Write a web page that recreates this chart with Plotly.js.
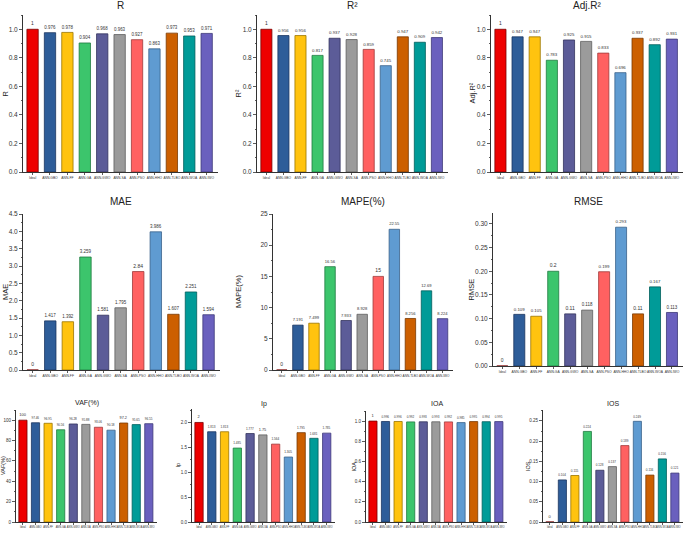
<!DOCTYPE html>
<html><head><meta charset="utf-8">
<script src="https://cdn.plot.ly/plotly-3.0.1.min.js"></script>
<style>body{margin:0;padding:0;background:#fff}#chart{width:685px;height:533px}</style>
</head><body><div id="chart"></div>
<script>
const categories = ["Ideal","ANN-GBO","ANN-FF","ANN-GA","ANN-GWO","ANN-SA","ANN-PSO","ANN-HHO","ANN-TLBO","ANN-WOA","ANN-IWO"];
const colors = ["#ee0000","#2e5d99","#ffc30f","#3cc56c","#5c5c98","#9b9b9b","#ff6161","#5f9bd1","#cc5f00","#009b98","#6a60be"];
const lineColors = ["#7a0000","#1a3560","#9a7500","#1f7a40","#33335e","#5e5e5e","#a03a3a","#3a628a","#7a3900","#005e5c","#3e3878"];

const R_vals    = [1,0.976,0.978,0.904,0.968,0.963,0.927,0.863,0.973,0.953,0.971];
const R2_vals   = [1,0.956,0.956,0.817,0.937,0.928,0.859,0.745,0.947,0.909,0.942];
const AdjR2_vals= [1,0.947,0.947,0.783,0.925,0.915,0.833,0.696,0.937,0.892,0.931];
const MAE_vals  = [0,1.417,1.392,3.259,1.581,1.795,2.84,3.986,1.607,2.251,1.594];
const MAPE_vals = [0,7.191,7.499,16.56,7.933,8.928,15,22.55,8.256,12.69,8.224];
const RMSE_vals = [0,0.109,0.105,0.2,0.11,0.118,0.199,0.293,0.11,0.167,0.113];
const VAF_vals  = [100,97.46,96.95,90.56,96.28,95.88,93.06,90.18,97.2,95.65,96.55];
const Ip_vals   = [2,1.813,1.813,1.485,1.777,1.750,1.564,1.305,1.795,1.681,1.785];
const IOA_vals  = [1,0.996,0.996,0.992,0.993,0.993,0.992,0.985,0.995,0.994,0.995];
const IOS_vals  = [0,0.104,0.115,0.224,0.128,0.137,0.189,0.249,0.116,0.156,0.121];

const W = 685, H = 533;
// [title, yTitle, values, xpx0, xpx1, ypxTop, ypxBot, ymax, dtick, minorDtick, tickFont, yTitleX, titleY, labelFont, catFont]
const panels = [
  ["R","R",R_vals,23,218,15,172,1.1,0.2,0.1,6.5,5,5,5,3.3],
  ["R²","R²",R2_vals,257,448,15,172,1.1,0.2,0.1,6.5,238,5,5,3.3],
  ["Adj.R²","Adj.R²",AdjR2_vals,491,683,15,172,1.1,0.2,0.1,6.5,472,5,5,3.3],
  ["MAE","MAE",MAE_vals,23,220,214,370,4.5,0.5,0.25,6.5,5,201,5,3.3],
  ["MAPE(%)","MAPE(%)",MAPE_vals,273,453,214,370,25,5,2.5,6.5,238,201,5,3.1],
  ["RMSE","RMSE",RMSE_vals,493,683,213,366,0.323,0.05,0.025,6.5,471,201,5,3.3],
  ["VAF(%)","VAF(%)",VAF_vals,16,157,410,522,110,20,10,4.5,3,403,4,2.6],
  ["Ip","Ip",Ip_vals,192,335,409,522,2.27,0.5,0.25,4.5,177,404,4,2.6],
  ["IOA","IOA",IOA_vals,366,507,411,522,1.1,0.2,0.1,4.5,353,403,4,2.6],
  ["IOS","IOS",IOS_vals,543,683,410,522,0.277,0.05,0.025,4.5,528,403,4,2.6]
];

const data = [];
const layout = {
  width: W, height: H,
  margin: {l:0,r:0,t:0,b:0},
  paper_bgcolor: "#fff", plot_bgcolor: "#fff",
  showlegend: false,
  font: {family: "Liberation Sans, Arial, sans-serif", color: "#222"},
  annotations: []
};

panels.forEach((p, i) => {
  const [title, yTitle, vals, x0, x1, yt, yb, ymax, dtick, mdt, tf, ytx, tty, lf, cf] = p;
  const n = i + 1;
  const xa = n === 1 ? "xaxis" : "xaxis" + n;
  const ya = n === 1 ? "yaxis" : "yaxis" + n;
  const xr = n === 1 ? "x" : "x" + n;
  const yr = n === 1 ? "y" : "y" + n;
  data.push({
    type: "bar", x: categories, y: vals, xaxis: xr, yaxis: yr,
    width: 0.65,
    marker: {color: colors, line: {color: lineColors, width: 0.8}},
    text: vals.map(v => String(v)),
    textposition: "outside",
    textfont: {size: lf, color: "#333"},
    outsidetextfont: {size: lf, color: "#333"},
    cliponaxis: false,
    hoverinfo: "x+y"
  });
  layout[xa] = {
    domain: [x0 / W, x1 / W], anchor: yr,
    range: [-0.55, 10.65], type: "category",
    showline: true, linecolor: "#333", linewidth: 1,
    ticks: "outside", ticklen: 2, tickcolor: "#333", tickwidth: 0.8,
    tickfont: {size: cf, color: "#333", family: "Liberation Sans Narrow, Liberation Sans, Arial, sans-serif"},
    tickangle: 0,
    showgrid: false, zeroline: false, fixedrange: true
  };
  layout[ya] = {
    domain: [1 - yb / H, 1 - yt / H], anchor: xr,
    range: [0, ymax], dtick: dtick, tick0: 0,
    showline: true, linecolor: "#333", linewidth: 1,
    ticks: "outside", ticklen: 3, tickcolor: "#333", tickwidth: 0.8,
    tickfont: {size: tf, color: "#333"},
    minor: {dtick: mdt, ticks: "outside", ticklen: 1.5, tickcolor: "#333", showgrid: false},
    tickformat: (dtick < 0.1 ? ".2f" : (dtick < 1 ? ".1f" : "d")),
    showgrid: false, zeroline: false, fixedrange: true
  };
  layout.annotations.push({
    text: title, xref: "paper", yref: "paper",
    x: ((x0 + x1) / 2) / W, y: 1 - tty / H,
    xanchor: "center", yanchor: "middle", showarrow: false,
    font: {size: i < 6 ? 10 : 7, color: "#222"}
  });
  layout.annotations.push({
    text: yTitle, xref: "paper", yref: "paper",
    x: ytx / W, y: 1 - ((yt + yb) / 2) / H,
    xanchor: "center", yanchor: "middle", showarrow: false, textangle: -90,
    font: {size: i < 6 ? 7.5 : 5.5, color: "#222"}
  });
});
layout.yaxis4.tickformat = ".1f";
layout.yaxis8.tickformat = ".1f";

Plotly.newPlot("chart", data, layout, {displayModeBar: false, staticPlot: true});
</script></body></html>
